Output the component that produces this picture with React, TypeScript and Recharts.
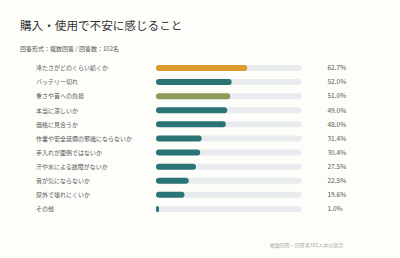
import React from "react";
import { BarChart, Bar, XAxis, YAxis, Cell, LabelList } from "recharts";

const categories: string[] = [
  "冷たさがどのくらい続くか",
  "バッテリー切れ",
  "重さや首への負担",
  "本当に涼しいか",
  "価格に見合うか",
  "作業や安全装備の邪魔にならないか",
  "手入れが面倒ではないか",
  "汗や水による故障がないか",
  "音が気にならないか",
  "屋外で壊れにくいか",
  "その他",
];

const percents: number[] = [62.7, 52.0, 51.0, 49.0, 48.0, 31.4, 30.4, 27.5, 22.5, 19.6, 1.0];

const barColors: string[] = [
  "#d99b2b",
  "#2a7475",
  "#8b9b5a",
  "#2a7475",
  "#2a7475",
  "#2a7475",
  "#2a7475",
  "#2a7475",
  "#2a7475",
  "#2a7475",
  "#2a7475",
];

const data = categories.map((name, i) => ({ name, value: percents[i], color: barColors[i] }));

const FONT = "'Noto Sans CJK JP', 'Noto Sans', sans-serif";
const PLOT_LEFT = 156;
const PLOT_WIDTH = 145.5;

const CategoryTick = (props: any) => {
  const { y, payload } = props;
  return (
    <text x={36} y={y} dy={2.2} textAnchor="start" fontSize={6} fill="#555" fontFamily={FONT}>
      {payload.value}
    </text>
  );
};

const ValueLabel = (props: any) => {
  const { y, height, value } = props;
  return (
    <text
      x={PLOT_LEFT + PLOT_WIDTH + 26}
      y={y + height / 2}
      dy={2.3}
      textAnchor="start"
      fontSize={6.5}
      fill="#555"
      fontFamily={FONT}
    >
      {Number(value).toFixed(1)}%
    </text>
  );
};

export default function App() {
  return (
    <div
      style={{
        position: "absolute",
        left: 0,
        top: 0,
        width: 400,
        height: 258,
        background: "#fdfdfa",
        fontFamily: FONT,
        overflow: "hidden",
      }}
    >
      <div
        style={{
          position: "absolute",
          left: 20,
          top: 16,
          fontSize: 11.6,
          lineHeight: "18px",
          color: "#333",
          fontWeight: 400,
          whiteSpace: "nowrap",
        }}
      >
        購入・使用で不安に感じること
      </div>
      <div
        style={{
          position: "absolute",
          left: 20,
          top: 44,
          fontSize: 6,
          lineHeight: "10px",
          color: "#555",
          whiteSpace: "nowrap",
        }}
      >
        回答形式：複数回答 / 回答数：102名
      </div>
      <div style={{ position: "absolute", left: 0, top: 0 }}>
        <BarChart
          width={400}
          height={258}
          data={data}
          layout="vertical"
          margin={{ top: 61, right: 400 - PLOT_LEFT - PLOT_WIDTH, bottom: 42, left: 0 }}
          barSize={6}
        >
          <XAxis type="number" domain={[0, 100]} hide />
          <YAxis
            type="category"
            dataKey="name"
            width={PLOT_LEFT}
            axisLine={false}
            tickLine={false}
            tick={<CategoryTick />}
            interval={0}
          />
          <Bar
            dataKey="value"
            radius={3}
            minPointSize={3}
            background={{ fill: "#e9ecef", radius: 3 }}
            isAnimationActive={false}
          >
            {data.map((d, i) => (
              <Cell key={i} fill={d.color} />
            ))}
            <LabelList dataKey="value" content={<ValueLabel />} />
          </Bar>
        </BarChart>
      </div>
      <div
        style={{
          position: "absolute",
          left: 270,
          top: 241,
          fontSize: 5,
          lineHeight: "8px",
          color: "#aaa",
          whiteSpace: "nowrap",
        }}
      >
        複数回答・回答者102人中の割合
      </div>
    </div>
  );
}
